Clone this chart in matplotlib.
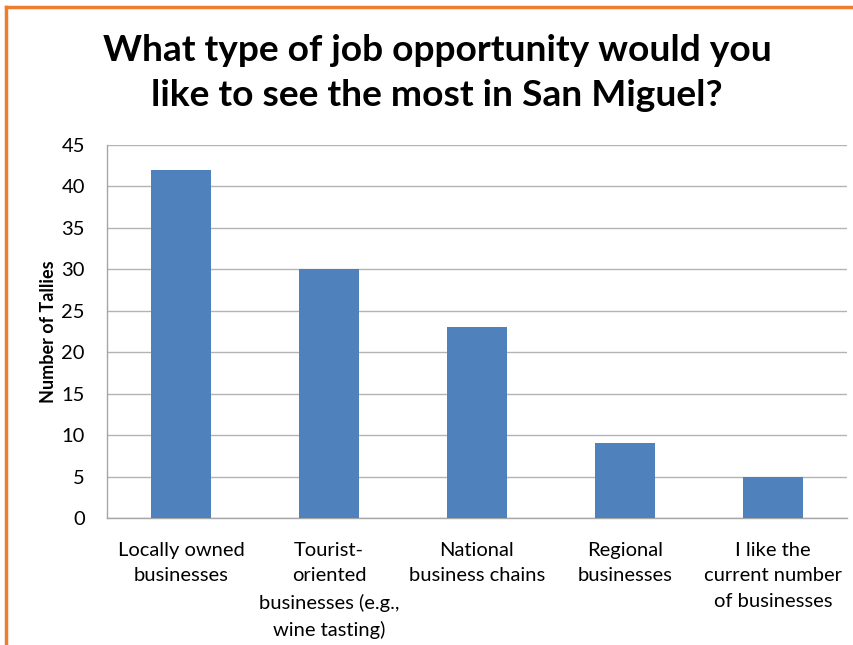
import matplotlib

matplotlib.use("Agg")
import matplotlib.pyplot as plt
from matplotlib.lines import Line2D

# Données du graphique
categories = [
    "Locally owned\nbusinesses",
    "Tourist-\noriented\nbusinesses (e.g.,\nwine tasting)",
    "National\nbusiness chains",
    "Regional\nbusinesses",
    "I like the\ncurrent number\nof businesses",
]
tallies = [42, 30, 23, 9, 5]
y_ticks = [0, 5, 10, 15, 20, 25, 30, 35, 40, 45]

plt.rcParams["font.family"] = ["Lato", "DejaVu Sans"]

fig = plt.figure(figsize=(8.54, 6.45), dpi=100)
ax = fig.add_axes([107 / 854, 1 - 518 / 645, 740 / 854, 373 / 645])

x = range(len(categories))
ax.bar(x, tallies, width=0.4, color="#4F81BD", zorder=3)

ax.set_xlim(-0.5, len(categories) - 0.5)
ax.set_ylim(0, 45)
ax.set_yticks(y_ticks)
ax.set_xticks(list(x))
ax.set_xticklabels(categories, fontsize=14.5, linespacing=1.62, va="top")
ax.tick_params(axis="both", length=0, labelsize=14.5)
ax.tick_params(axis="x", pad=17)
ax.tick_params(axis="y", pad=16)

ax.grid(axis="y", color="#B3B3B3", lw=1, zorder=0)
for side in ("top", "right"):
    ax.spines[side].set_visible(False)
for side in ("left", "bottom"):
    ax.spines[side].set_color("#A6A6A6")
    ax.spines[side].set_linewidth(1)

ax.set_ylabel("Number of Tallies", fontsize=13, fontweight="bold", labelpad=3)

fig.text(437 / 854, 1 - 73 / 645,
         "What type of job opportunity would you\nlike to see the most in San Miguel?",
         ha="center", va="center", fontsize=26.7, fontweight="bold", linespacing=1.45)

# Bordure orange (haut et gauche)
fig.add_artist(Line2D([6.5 / 854, 6.5 / 854], [0, 1 - 7 / 645], color="#ED7D31", lw=2.5,
                      transform=fig.transFigure))
fig.add_artist(Line2D([6.5 / 854, 1], [1 - 7 / 645, 1 - 7 / 645], color="#ED7D31", lw=2.5,
                      transform=fig.transFigure))

fig.savefig("out.png", dpi=100)
